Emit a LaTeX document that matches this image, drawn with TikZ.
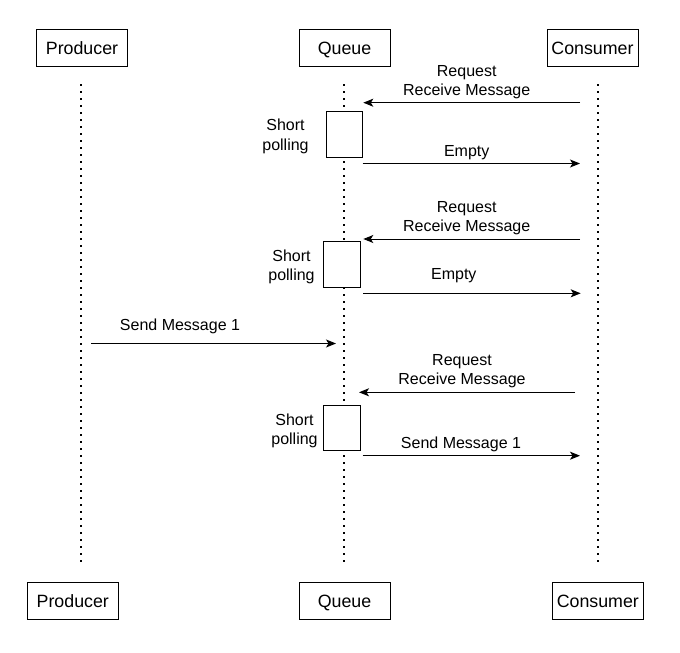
\documentclass[tikz,border=0pt]{standalone}
\usepackage{fontspec}
\setmainfont{Liberation Sans}
\usetikzlibrary{arrows.meta}
\begin{document}
\begin{tikzpicture}[x=1pt,y=-1pt,
  actor/.style={draw, line width=1pt, minimum width=91pt, minimum height=37pt, inner sep=0pt, text height=13pt, text depth=0pt, font=\fontsize{17.8}{21}\selectfont},
  actbox/.style={draw, fill=white, line width=1pt, inner sep=0pt},
  life/.style={line width=2pt, dash pattern=on 2pt off 5pt},
  msg/.style={line width=1pt, -{Stealth[length=10pt,width=8pt,inset=2.5pt]}},
  lbl/.style={inner sep=0pt, align=center, anchor=base, font=\fontsize{16}{19.2}\selectfont}]
\useasboundingbox[fill=white] (0,0) rectangle (680,653);
% actors
\node[actor] (p1) at (82,48.3) {Producer};
\node[actor] (q1) at (344.5,48.3) {Queue};
\node[actor] (c1) at (592.5,48.3) {Consumer};
\node[actor] (p2) at (72.8,600.5) {Producer};
\node[actor] (q2) at (344.5,600.5) {Queue};
\node[actor] (c2) at (597.8,600.5) {Consumer};
% lifelines
\coordinate (pa) at (81,84);   \coordinate (pb) at (81,565);
\coordinate (qa) at (344,84); \coordinate (qb) at (344,565);
\coordinate (ca) at (598,84); \coordinate (cb) at (598,565);
\draw[life] (pa) -- (pb);
\draw[life] (qa) -- (qb);
\draw[life] (ca) -- (cb);
% activations
\node[actbox, minimum width=36pt, minimum height=45.6pt] (a1) at (344.7,134.5) {};
\node[actbox, minimum width=36.7pt, minimum height=45.6pt] (a2) at (341.7,264.5) {};
\node[actbox, minimum width=36.7pt, minimum height=45pt] (a3) at (341.7,428.2) {};
\node[lbl] (s1) at (285.5,150) {Short\\polling};
\node[lbl] (s2) at (291.5,280.2) {Short\\polling};
\node[lbl] (s3) at (294.5,444.2) {Short\\polling};
% messages
\coordinate (r1a) at (580,102.7); \coordinate (r1b) at (363.3,102.7);
\draw[msg] (r1a) -- (r1b);
\node[lbl] (l1) at (466.7,95.9) {Request\\Receive Message};
\coordinate (e1a) at (362.7,163.5); \coordinate (e1b) at (580,163.5);
\draw[msg] (e1a) -- (e1b);
\node[lbl] (l2) at (466.7,156.7) {Empty};
\coordinate (r2a) at (580,239); \coordinate (r2b) at (363.3,239);
\draw[msg] (r2a) -- (r2b);
\node[lbl] (l3) at (466.7,231.5) {Request\\Receive Message};
\coordinate (e2a) at (363.3,293.3); \coordinate (e2b) at (580.7,293.3);
\draw[msg] (e2a) -- (e2b);
\node[lbl] (l4) at (453.8,279.3) {Empty};
\coordinate (m0a) at (91,343.5); \coordinate (m0b) at (336,343.5);
\draw[msg] (m0a) -- (m0b);
\node[lbl] (l5) at (180,330) {Send Message 1};
\coordinate (r3a) at (575,392.3); \coordinate (r3b) at (359,392.3);
\draw[msg] (r3a) -- (r3b);
\node[lbl] (l6) at (462,384.9) {Request\\Receive Message};
\coordinate (m1a) at (362.7,455.7); \coordinate (m1b) at (580,455.7);
\draw[msg] (m1a) -- (m1b);
\node[lbl] (l7) at (461,448.3) {Send Message 1};
\end{tikzpicture}
\end{document}
